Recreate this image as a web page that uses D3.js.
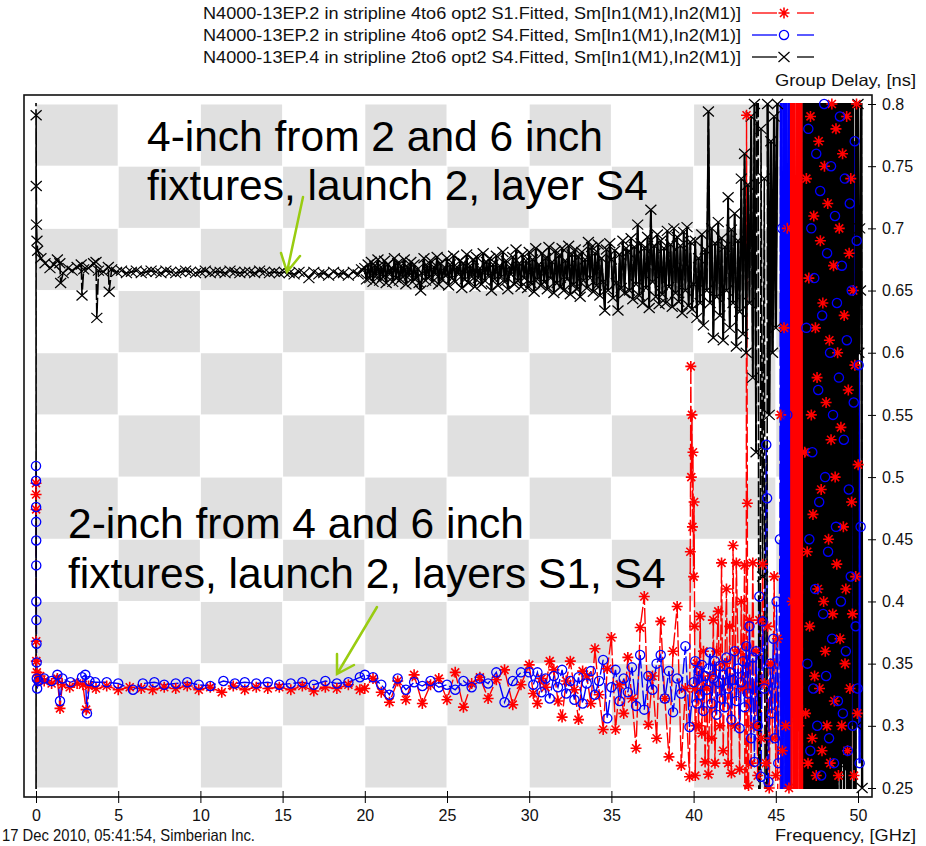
<!DOCTYPE html>
<html>
<head>
<meta charset="utf-8">
<script src="https://cdn.jsdelivr.net/npm/d3@7"></script>
<style>
  body { margin: 0; background: #fff; }
  text { font-family: "Liberation Sans", Arial, sans-serif; }
</style>
</head>
<body>
<svg id="chart"></svg>
<script>
const width = 926;
const height = 846;

// ----- DATA (frequency in GHz, group delay in ns) -----
const xTicks = [0, 5, 10, 15, 20, 25, 30, 35, 40, 45, 50];
const yTicks = [0.25, 0.3, 0.35, 0.4, 0.45, 0.5, 0.55, 0.6, 0.65, 0.7, 0.75, 0.8];

const legendLabels = [
  "N4000-13EP.2 in stripline 4to6 opt2 S1.Fitted, Sm[In1(M1),In2(M1)]",
  "N4000-13EP.2 in stripline 4to6 opt2 S4.Fitted, Sm[In1(M1),In2(M1)]",
  "N4000-13EP.4 in stripline 2to6 opt2 S4.Fitted, Sm[In1(M1),In2(M1)]"
];

// sweep(f0, df, values): uniformly swept frequency points with read-off values
function sweep(f0, df, values) {
  return values.map((v, i) => [+(f0 + i * df).toFixed(3), v]);
}

// 4-inch, S4 (black, x markers)
const blackStart = [[0, 1.3], [0.004, -0.3], [0.008, 0.791], [0.016, 0.734], [0.03, 0.703], [0.06, 0.69], [0.1, 0.682]];
const blackLow = [
  [0.3, 0.676], [0.55, 0.672], [0.85, 0.668], [1.1, 0.671], [1.3, 0.675], [1.45, 0.672], [1.5, 0.656], [1.65, 0.664],
  [1.95, 0.668], [2.2, 0.666], [2.5, 0.669], [2.75, 0.671], [2.8, 0.646], [2.9, 0.667], [3.2, 0.668], [3.5, 0.672],
  [3.65, 0.673], [3.7, 0.628], [3.8, 0.666], [4.1, 0.665], [4.4, 0.669], [4.45, 0.649], [4.6, 0.667], [4.9, 0.665],
  [5.2, 0.666], [5.5, 0.664], [5.8, 0.665], [6.1, 0.666], [6.4, 0.664], [6.7, 0.665], [7.0, 0.666], [7.3, 0.665],
  [7.6, 0.664], [7.9, 0.666], [8.2, 0.665], [8.5, 0.664], [8.8, 0.665], [9.1, 0.666], [9.4, 0.665], [9.7, 0.664],
  [10.0, 0.665], [10.3, 0.666], [10.6, 0.664], [10.9, 0.665], [11.2, 0.665], [11.5, 0.664], [11.8, 0.666], [12.1, 0.665],
  [12.4, 0.664], [12.7, 0.665], [13.0, 0.665], [13.3, 0.664], [13.6, 0.666], [13.9, 0.665], [14.2, 0.664], [14.5, 0.665],
  [14.8, 0.664], [15.1, 0.665], [15.4, 0.664], [15.7, 0.663], [16.0, 0.665], [16.3, 0.664], [16.6, 0.66], [16.9, 0.665],
  [17.2, 0.663], [17.5, 0.664], [17.8, 0.662], [18.1, 0.665], [18.4, 0.663], [18.7, 0.664], [19.0, 0.662], [19.3, 0.665],
  [19.6, 0.663], [19.8, 0.667]
];
const blackMid = sweep(20, 0.1, [
  0.668, 0.659, 0.671, 0.660, 0.673, 0.657, 0.670, 0.662, 0.675, 0.658,
  0.669, 0.661, 0.674, 0.656, 0.671, 0.663, 0.668, 0.657, 0.676, 0.660,
  0.672, 0.658, 0.670, 0.661, 0.675, 0.655, 0.669, 0.662, 0.673, 0.657,
  0.671, 0.660, 0.667, 0.656, 0.650, 0.664, 0.676, 0.658, 0.670, 0.661,
  0.674, 0.657, 0.669, 0.663, 0.677, 0.655, 0.672, 0.659, 0.668, 0.662,
  0.676, 0.654, 0.671, 0.660, 0.678, 0.657, 0.669, 0.663, 0.674, 0.652,
  0.672, 0.659, 0.679, 0.656, 0.670, 0.661, 0.675, 0.653, 0.677, 0.660,
  0.668, 0.655, 0.680, 0.658, 0.673, 0.662, 0.676, 0.650, 0.671, 0.659,
  0.678, 0.654, 0.670, 0.661, 0.681, 0.657, 0.674, 0.651, 0.669, 0.663,
  0.677, 0.655, 0.683, 0.658, 0.672, 0.653, 0.679, 0.660, 0.674, 0.652,
  0.681, 0.656, 0.675, 0.649, 0.684, 0.659, 0.671, 0.654, 0.680, 0.657,
  0.676, 0.651, 0.685, 0.660, 0.673, 0.648, 0.682, 0.656, 0.678, 0.653,
  0.684, 0.650, 0.674, 0.659, 0.686, 0.647, 0.679, 0.655, 0.683, 0.651,
  0.677, 0.645, 0.681, 0.658, 0.675, 0.652, 0.689, 0.660, 0.685, 0.649,
  0.680, 0.654, 0.687, 0.646, 0.676, 0.657, 0.634, 0.683, 0.650, 0.688,
  0.675, 0.644, 0.682, 0.656, 0.634, 0.679, 0.652, 0.690, 0.648, 0.684,
  0.681, 0.650, 0.692, 0.643, 0.685, 0.655, 0.703, 0.646, 0.688, 0.640,
  0.684, 0.652, 0.693, 0.636, 0.715, 0.657, 0.686, 0.645, 0.695, 0.639,
  0.690, 0.647, 0.684, 0.640, 0.698, 0.653, 0.687, 0.637, 0.700, 0.648,
  0.693, 0.641, 0.686, 0.632, 0.697, 0.650, 0.701, 0.638, 0.689, 0.635
]);
const blackHigh = sweep(40, 0.1, [
  0.655, 0.690, 0.628, 0.676, 0.640, 0.695, 0.622, 0.683, 0.650, 0.794,
  0.640, 0.700, 0.612, 0.688, 0.645, 0.705, 0.630, 0.692, 0.610, 0.685,
  0.650, 0.725, 0.620, 0.699, 0.640, 0.712, 0.605, 0.690, 0.633, 0.740,
  0.615, 0.760, 0.600, 0.735, 0.640, 0.790, 0.580, 0.800, 0.520, 1.2,
  -0.2, 0.78, 0.42, 0.74, -0.3, 0.80, 0.55, 0.77, 0.60, 0.79,
  0.62, 0.80, 1.5
]);
const blackChaos = sweep(46.7, 0.05, [
  0.86, 0.21, 0.84, 0.20, 0.87, 0.22, 0.83, 0.19, 0.85, 0.23, 0.84, 0.20, 0.88, 0.21, 0.82, 0.20, 0.85, 0.22, 0.86, 0.19,
  0.84, 0.21, 0.83, 0.20, 0.87, 0.24, 0.85, 0.20, 0.84, 0.21, 0.86, 0.19, 0.83, 0.22, 0.85, 0.20, 0.88, 0.21, 0.84, 0.23,
  0.86, 0.20, 0.83, 0.26, 0.85, 0.21, 0.87, 0.27, 0.84, 0.20, 0.85, 0.265, 0.83, 0.21, 0.86, 0.20, 0.84, 0.22, 0.85, 0.62,
  0.84, 0.20, 0.65, 0.22, 0.86, 0.30, 0.80, 0.60, 0.70, 0.65, 0.84, 0.25
]);

// 2-inch, S1 (red, asterisk markers)
const redStart = [[0, 0.495], [0.004, 0.486], [0.008, 0.474], [0.012, 0.368], [0.02, 0.352], [0.05, 0.343], [0.12, 0.336]];
const redLow = [
  [0.25, 0.340], [0.5, 0.336], [0.95, 0.334], [1.3, 0.338], [1.46, 0.314], [1.6, 0.333], [2.05, 0.331], [2.5, 0.334],
  [2.85, 0.333], [3.05, 0.313], [3.2, 0.332], [3.65, 0.330], [4.3, 0.332], [5.0, 0.329], [5.7, 0.331], [6.4, 0.330],
  [7.1, 0.329], [7.8, 0.331], [8.5, 0.330], [9.2, 0.332], [9.9, 0.329], [10.6, 0.331], [11.3, 0.327], [12.0, 0.332],
  [12.7, 0.329], [13.4, 0.331], [14.1, 0.330], [14.8, 0.331], [15.5, 0.329], [16.2, 0.332], [16.9, 0.328], [17.6, 0.331],
  [18.3, 0.330], [19.0, 0.333], [19.7, 0.329]
];
const redMid = sweep(20, 0.5, [
  0.330, 0.338, 0.327, 0.319, 0.336, 0.321, 0.341, 0.318, 0.333, 0.338,
  0.321, 0.343, 0.315, 0.334, 0.339, 0.322, 0.337, 0.345, 0.317, 0.333
]);
const redNoisy = sweep(30, 0.25, [
  0.349, 0.326, 0.318, 0.338, 0.331, 0.352, 0.345, 0.320, 0.307, 0.336,
  0.352, 0.329, 0.305, 0.344, 0.340, 0.318, 0.362, 0.325, 0.297, 0.346,
  0.371, 0.297, 0.333, 0.310, 0.355, 0.322, 0.282, 0.379, 0.404, 0.301,
  0.340, 0.290, 0.384, 0.322, 0.275, 0.360, 0.396, 0.268, 0.330, 0.259
]);
const redSpike = [[39.8, 0.44], [39.83, 0.589], [39.86, 0.50], [39.9, 0.55], [39.93, 0.46], [39.96, 0.52],
  [40.0, 0.42], [40.03, 0.48], [40.06, 0.38], [40.08, 0.33], [40.1, 0.26], [40.14, 0.30]];
const redHigh = sweep(40.2, 0.1, [
  0.35, 0.30, 0.388, 0.294, 0.36, 0.271, 0.33, 0.261,
  0.34, 0.29, 0.385, 0.27, 0.36, 0.392, 0.30, 0.431, 0.28, 0.35,
  0.41, 0.27, 0.38, 0.262, 0.445, 0.30, 0.431, 0.36, 0.265, 0.40,
  0.33, 0.429
]);
const redDrop = [[43.17, -0.4], [43.22, 0.791], [43.27, 0.479], [43.3, -0.3], [43.34, 0.252]];
const redHigh2 = sweep(43.4, 0.1, [
  0.385, 0.27, 0.431, 0.30, 0.36, 0.26, 0.385, 0.29, 0.43, 0.334,
  0.27, 0.38, 0.25, 0.35, 0.29, 0.42, 0.26, 0.37, -0.3, 0.55,
  0.28, 0.62, 0.3, 0.7, 0.25
]);
const redBand = sweep(45.88, 0.04, [
  0.85, 0.21, 0.83, 0.40, 0.86, 0.20, 0.84, 0.22, 0.66, 0.21, 0.85, 0.20,
  0.83, 0.30, 0.87, 0.21, 0.84, 0.20, 0.52, 0.22, 0.85, 0.20
]);
const redChaos = sweep(46.76, 0.05, [
  0.52, 0.31, 0.74, 0.44, 0.27, 0.66, 0.38, 0.79, 0.55, 0.29, 0.47, 0.71, 0.34, 0.62, 0.26, 0.58, 0.41, 0.77, 0.33, 0.69,
  0.49, 0.28, 0.64, 0.40, 0.75, 0.36, 0.56, 0.30, 0.72, 0.45, 0.61, 0.27, 0.53, 0.80, 0.39, 0.67, 0.32, 0.50, 0.78, 0.43,
  0.60, 0.26, 0.70, 0.37, 0.54, 0.30, 0.76, 0.46, 0.63, 0.35, 0.41, 0.79, 0.28, 0.57, 0.68, 0.33, 0.74, 0.48, 0.39, 0.65,
  0.26, 0.59, 0.42, 0.80, 0.31, 0.51
]);

// 2-inch, S4 (blue, circle markers)
const blueStart = [[0, 0.509], [0.003, 0.497], [0.006, 0.476], [0.009, 0.464], [0.012, 0.449], [0.015, 0.429],
  [0.02, 0.40], [0.025, 0.385], [0.03, 0.366], [0.04, 0.351], [0.05, 0.338], [0.07, 0.330]];
const blueLow = [
  [0.15, 0.336], [0.5, 0.338], [0.95, 0.336], [1.3, 0.341], [1.46, 0.320], [1.6, 0.338], [2.1, 0.335], [2.8, 0.339],
  [3.0, 0.341], [3.1, 0.310], [3.25, 0.336], [3.6, 0.335], [4.3, 0.335], [5.0, 0.334], [5.9, 0.329], [6.5, 0.334],
  [7.2, 0.335], [7.8, 0.333], [8.5, 0.334], [9.2, 0.335], [9.9, 0.333], [10.6, 0.332], [11.4, 0.336], [12.1, 0.334],
  [12.7, 0.335], [13.4, 0.334], [14.1, 0.335], [14.8, 0.333], [15.5, 0.334], [16.2, 0.335], [16.9, 0.333], [17.6, 0.336],
  [18.3, 0.334], [19.0, 0.335], [19.7, 0.339]
];
const blueMid = sweep(20, 0.5, [
  0.341, 0.339, 0.333, 0.325, 0.338, 0.329, 0.335, 0.332, 0.336, 0.331,
  0.333, 0.329, 0.336, 0.331, 0.338, 0.334, 0.343, 0.319, 0.336, 0.343
]);
const blueNoisy = sweep(30, 0.25, [
  0.343, 0.333, 0.343, 0.327, 0.338, 0.322, 0.340, 0.331, 0.345, 0.326,
  0.336, 0.321, 0.339, 0.318, 0.334, 0.344, 0.325, 0.336, 0.353, 0.306,
  0.331, 0.345, 0.320, 0.338, 0.327, 0.347, 0.316, 0.357, 0.313, 0.340,
  0.329, 0.350, 0.357, 0.322, 0.344, 0.311, 0.338, 0.326, 0.364, 0.299
]);
const blueHigh = sweep(40, 0.1, [
  0.335, 0.352, 0.318, 0.344, 0.325, 0.349, 0.312, 0.340, 0.329, 0.346,
  0.359, 0.318, 0.338, 0.352, 0.309, 0.335, 0.348, 0.322, 0.341, 0.315,
  0.355, 0.330, 0.343, 0.305, 0.337, 0.360, 0.320, 0.346, 0.298, 0.335,
  0.352, 0.315, 0.364, 0.326, 0.380, 0.290, 0.355, 0.271, 0.360, 0.300,
  0.404, 0.259, 0.384, 0.330
]);
const blueDrop = [[44.42, 0.526], [44.47, 0.483], [44.5, -0.3], [44.55, 0.255], [44.65, 0.35], [44.75, 0.31],
  [44.85, 0.37], [44.95, 0.29], [45.05, 0.40], [45.15, 0.27], [45.25, 0.45]];
const blueBand = sweep(45.3, 0.04, [0.84, 0.21, 0.70, 0.22, 0.85, 0.35, 0.82, 0.20, 0.86, 0.23, 0.55, 0.21, 0.84, 0.20, -0.2]);
const blueChaos = sweep(46.8, 0.06, [
  -0.2, 0.62, 0.35, 0.78, 0.45, 0.28, 0.70, 0.52, 0.33, 0.66, 0.41, 0.76, 0.30, 0.57, 0.48, 0.73, 0.26, 0.63, 0.39, 0.80,
  0.50, 0.34, 0.68, 0.44, 0.29, 0.60, 0.75, 0.37, 0.55, 0.27, 0.71, 0.46, 0.64, 0.32, 0.58, 0.79, 0.40, 0.67, 0.31, 0.53,
  0.74, 0.36, 0.61, 0.28, 0.49, 0.72, 0.42, 0.65, 0.30, 0.56, 0.77, 0.38, 0.69, 0.33, 0.59, 0.27, 0.46
]);

// frequency spans (GHz) where each trace's sweeps overlap into a solid mass
const series = [
  { name: "red", color: "#ff0000", marker: "star", dense: [[45.88, 51, 2.4]],
    points: [].concat(redStart, redLow, redMid, redNoisy, redSpike, redHigh, redDrop, redHigh2, redBand, redChaos) },
  { name: "blue", color: "#0000ff", marker: "circle", dense: [[45.3, 51, 2.4]],
    points: [].concat(blueStart, blueLow, blueMid, blueNoisy, blueHigh, blueDrop, blueBand, blueChaos) },
  { name: "black", color: "#000000", marker: "cross", dense: [[20, 43.8, 1.8], [44.5, 51, 2.4]],
    points: [].concat(blackStart, blackLow, blackMid, blackHigh, blackChaos) }
];

// ----- LAYOUT -----
const frame = { left: 24, top: 95, right: 872, bottom: 797 };

const svg = d3.select("#chart")
  .attr("width", width)
  .attr("height", height)
  .attr("viewBox", [0, 0, width, height]);

const x = d3.scaleLinear().domain([0, 50]).range([36, 858]);
const y = d3.scaleLinear().domain([0.25, 0.8]).range([788, 104]);

const defs = svg.append("defs");
defs.append("clipPath").attr("id", "clip-lines")
  .append("rect")
  .attr("x", 30).attr("y", y(0.8) - 1)
  .attr("width", 834).attr("height", y(0.25) - y(0.8) + 2);
defs.append("clipPath").attr("id", "clip-marks")
  .append("rect")
  .attr("x", frame.left + 1).attr("y", frame.top + 1)
  .attr("width", frame.right - frame.left - 2).attr("height", frame.bottom - frame.top - 2);

// checkerboard background
const cells = [];
for (let i = 0; i < 10; i++) {
  for (let j = 0; j < 11; j++) {
    if ((i + j) % 2 === 0) cells.push({ f0: i * 5, f1: i * 5 + 5, v1: 0.8 - j * 0.05, v0: 0.8 - (j + 1) * 0.05 });
  }
}
svg.append("g").attr("class", "checker")
  .selectAll("rect")
  .data(cells)
  .join("rect")
  .attr("x", d => x(d.f0) + 0.5)
  .attr("y", d => y(d.v1) + 0.5)
  .attr("width", d => x(d.f1) - x(d.f0) - 1)
  .attr("height", d => y(d.v0) - y(d.v1) - 1)
  .attr("fill", "#e0e0e0");

// ----- SERIES -----
const line = d3.line().x(d => x(d[0])).y(d => y(d[1]));

const linesG = svg.append("g").attr("clip-path", "url(#clip-lines)");
series.forEach(s => {
  linesG.append("path")
    .datum(s.points)
    .attr("fill", "none")
    .attr("stroke", s.color)
    .attr("stroke-width", s.name === "black" ? 1.6 : 1.4)
    .attr("stroke-dasharray", "16,3")
    .attr("d", line);
  // dense parts: sweeps overlap so much they merge into a solid block
  s.dense.forEach(([f0, f1, w]) => {
    linesG.append("path")
      .datum(s.points.filter(d => d[0] >= f0 && d[0] <= f1))
      .attr("fill", "none")
      .attr("stroke", s.color)
      .attr("stroke-width", w)
      .attr("d", line);
  });
});

const markerPath = {
  star: "M-5.5,0H5.5M0,-5.5V5.5M-4,-4L4,4M-4,4L4,-4",
  cross: "M-5.5,-5L5.5,5M-5.5,5L5.5,-5"
};

function drawMarker(g, type, color) {
  if (type === "circle") {
    g.append("circle").attr("r", 4.6).attr("fill", "none").attr("stroke", color).attr("stroke-width", 1.3);
  } else {
    g.append("path").attr("d", markerPath[type]).attr("fill", "none")
      .attr("stroke", color).attr("stroke-width", type === "star" ? 1.6 : 1.25);
  }
}

const marksG = svg.append("g").attr("clip-path", "url(#clip-marks)");
[series[2], series[0], series[1]].forEach(s => {
  marksG.append("g")
    .selectAll("g")
    .data(s.points.filter(d => d[1] >= 0.245 && d[1] <= 0.805))
    .join("g")
    .attr("transform", d => `translate(${x(d[0])},${y(d[1])})`)
    .each(function () { drawMarker(d3.select(this), s.marker, s.color); });
});

// ----- FRAME & AXES -----
svg.append("rect")
  .attr("x", frame.left).attr("y", frame.top)
  .attr("width", frame.right - frame.left).attr("height", frame.bottom - frame.top)
  .attr("fill", "none").attr("stroke", "#111").attr("stroke-width", 1.6);

const xAxis = svg.append("g")
  .attr("transform", `translate(0,${frame.bottom})`)
  .call(d3.axisBottom(x).tickValues(xTicks).tickSize(6).tickPadding(7).tickFormat(d3.format("d")));
xAxis.select(".domain").remove();
xAxis.selectAll(".tick line").attr("y1", -6).attr("y2", 6).attr("stroke", "#000");
xAxis.selectAll(".tick text")
  .attr("font-size", 16).attr("fill", "#111")
  .attr("font-family", "'Liberation Sans', Arial, sans-serif");

const yAxis = svg.append("g")
  .attr("transform", `translate(${frame.right},0)`)
  .call(d3.axisRight(y).tickValues(yTicks).tickSize(4).tickPadding(6).tickFormat(d3.format("~g")));
yAxis.select(".domain").remove();
yAxis.selectAll(".tick line").attr("x1", -4).attr("x2", 4).attr("stroke", "#000");
yAxis.selectAll(".tick text")
  .attr("font-size", 16).attr("fill", "#111")
  .attr("font-family", "'Liberation Sans', Arial, sans-serif");

// axis titles and footer
svg.append("text")
  .attr("x", 916).attr("y", 86)
  .attr("text-anchor", "end").attr("font-size", 16.5).attr("fill", "#111")
  .attr("textLength", 141).attr("lengthAdjust", "spacingAndGlyphs")
  .text("Group Delay, [ns]");
svg.append("text")
  .attr("x", 916).attr("y", 841)
  .attr("text-anchor", "end").attr("font-size", 16.5).attr("fill", "#111")
  .attr("textLength", 141).attr("lengthAdjust", "spacingAndGlyphs")
  .text("Frequency, [GHz]");
svg.append("text")
  .attr("x", 2).attr("y", 841)
  .attr("font-size", 16.5).attr("fill", "#111")
  .attr("textLength", 253).attr("lengthAdjust", "spacingAndGlyphs")
  .text("17 Dec 2010, 05:41:54, Simberian Inc.");

// ----- LEGEND -----
const legend = svg.append("g").attr("class", "legend");
const legendOrder = [series[0], series[1], series[2]];
legendOrder.forEach((s, i) => {
  const cy = 13 + i * 22;
  legend.append("text")
    .attr("x", 741).attr("y", cy + 6)
    .attr("text-anchor", "end").attr("font-size", 16.5).attr("fill", "#111")
    .attr("textLength", 538).attr("lengthAdjust", "spacingAndGlyphs")
    .text(legendLabels[i]);
  legend.append("line").attr("x1", 752).attr("x2", 777).attr("y1", cy).attr("y2", cy)
    .attr("stroke", s.color).attr("stroke-width", 1.3);
  legend.append("line").attr("x1", 797).attr("x2", 814).attr("y1", cy).attr("y2", cy)
    .attr("stroke", s.color).attr("stroke-width", 1.3);
  const m = legend.append("g").attr("transform", `translate(784,${cy})`);
  drawMarker(m, s.marker, s.color);
});

// ----- ANNOTATIONS -----
const notes = svg.append("g").attr("font-size", 42.5).attr("fill", "#000");
notes.append("text").attr("x", 147).attr("y", 151).text("4-inch from 2 and 6 inch");
notes.append("text").attr("x", 147).attr("y", 200).text("fixtures, launch 2, layer S4");
notes.append("text").attr("x", 68).attr("y", 538).text("2-inch from 4 and 6 inch");
notes.append("text").attr("x", 68).attr("y", 588).text("fixtures, launch 2, layers S1, S4");

const arrows = svg.append("g")
  .attr("stroke", "#99cc11").attr("stroke-width", 2.5)
  .attr("fill", "none").attr("stroke-linecap", "round");
arrows.append("path").attr("d", "M303,197L287,272M281,253L287,272L300,256");
arrows.append("path").attr("d", "M377,607L337,674M337,654L337,674L354,665");
</script>
</body>
</html>
